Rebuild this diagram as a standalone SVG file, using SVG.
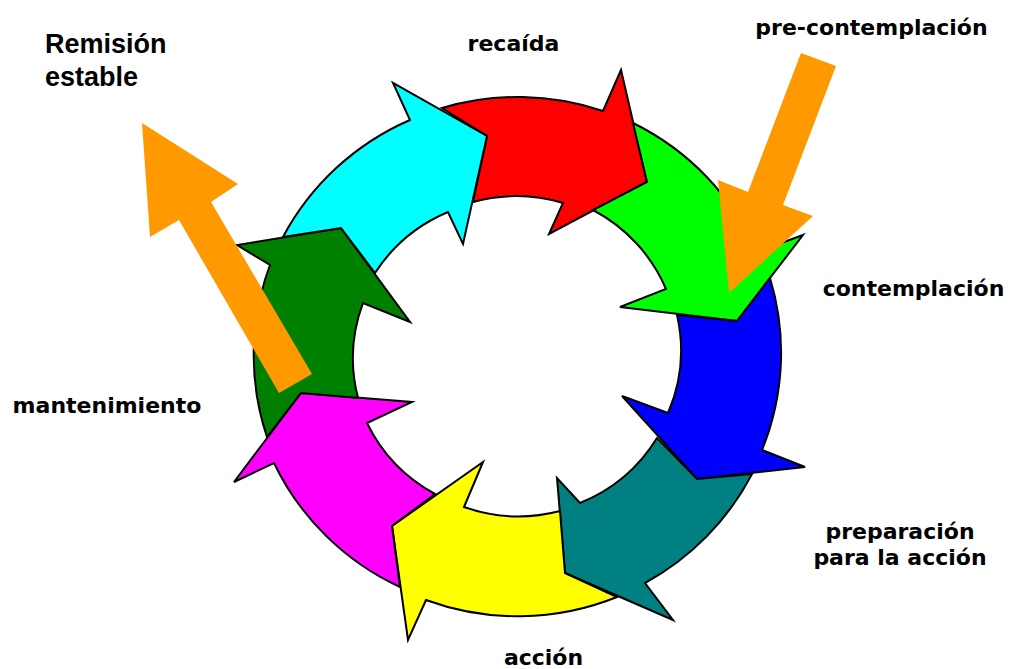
<svg xmlns="http://www.w3.org/2000/svg" width="1009" height="669" viewBox="0 0 1009 669">
<style>
.seg{stroke:#000;stroke-width:2;stroke-linejoin:miter}
.lbl{font-family:"DejaVu Sans",Verdana,sans-serif;font-weight:bold;font-size:22px;fill:#000;text-anchor:middle}
.lbl2{font-family:"Liberation Sans",Arial,sans-serif;font-weight:bold;font-size:27px;fill:#000}
.orange{fill:#FF9900;stroke:none}
</style>
<rect width="1009" height="669" fill="#fff"/>
<g id="ring">
<g id="stage-recaida"><path class="seg" fill="#FF0000" d="M442,108 A263,260 0 0 1 603,111 L621,70 L647,182 L549,234 L563,203 A162,160 0 0 0 473,202 L487,136 Z"/></g>
<g id="stage-contemplacion"><path class="seg" fill="#00FF00" d="M633,123 A263,260 0 0 1 757,252 L803,235 L737,321 L620,307 L666,289 A162,160 0 0 0 593,210 L647,182 Z"/></g>
<g id="stage-preparacion"><path class="seg" fill="#0000FF" d="M770,278 A263,260 0 0 1 762,450 L805,467 L697,479 L622,396 L668,413 A162,160 0 0 0 677,315 L737,321 Z"/></g>
<g id="stage-accion"><path class="seg" fill="#008080" d="M752,474 A263,260 0 0 1 645,583 L673,620 L565,573 L557,478 L580,503 A162,160 0 0 0 657,438 L697,479 Z"/></g>
<g id="stage-accion2"><path class="seg" fill="#FFFF00" d="M617,597 A263,260 0 0 1 426,600 L408,640 L392,526 L483,462 L464,507 A162,160 0 0 0 560,511 L565,573 Z"/></g>
<g id="stage-mantenimiento"><path class="seg" fill="#FF00FF" d="M400,587 A263,260 0 0 1 274,463 L234,482 L301,393 L412,402 L367,423 A162,160 0 0 0 435,494 L392,526 Z"/></g>
<g id="stage-mantenimiento2"><path class="seg" fill="#008000" d="M267,437 A263,260 0 0 1 270,265 L237,245 L341,228 L410,322 L363,303 A162,160 0 0 0 358,398 L301,393 Z"/></g>
<g id="stage-precontemplacion"><path class="seg" fill="#00FFFF" d="M283,237 A263,260 0 0 1 410,120 L393,83 L487,136 L463,244 L448,212 A162,160 0 0 0 375,273 L341,228 Z"/></g>
</g>
<g id="connectors">
<polygon id="arrow-entry" class="orange" points="801,53 836,66 783,205 813,216 729,293 718,180 748,192"/>
<polygon id="arrow-exit" class="orange" points="142,123 238,184 211,202 312,374 279,393 179,220 150,237"/>
</g>
<g id="label-recaida"><text class="lbl" x="513.5" y="51">recaída</text></g>
<g id="label-pre"><text class="lbl" x="871.5" y="35">pre-contemplación</text></g>
<g id="label-contemplacion"><text class="lbl" x="913.5" y="296">contemplación</text></g>
<g id="label-preparacion"><text class="lbl" x="900" y="539">preparación</text><text class="lbl" x="900" y="565">para la acción</text></g>
<g id="label-accion"><text class="lbl" x="543.5" y="665">acción</text></g>
<g id="label-mantenimiento"><text class="lbl" x="107" y="413">mantenimiento</text></g>
<g id="label-remision"><text class="lbl2" x="45" y="53">Remisión</text><text class="lbl2" x="45" y="86">estable</text></g>
</svg>
